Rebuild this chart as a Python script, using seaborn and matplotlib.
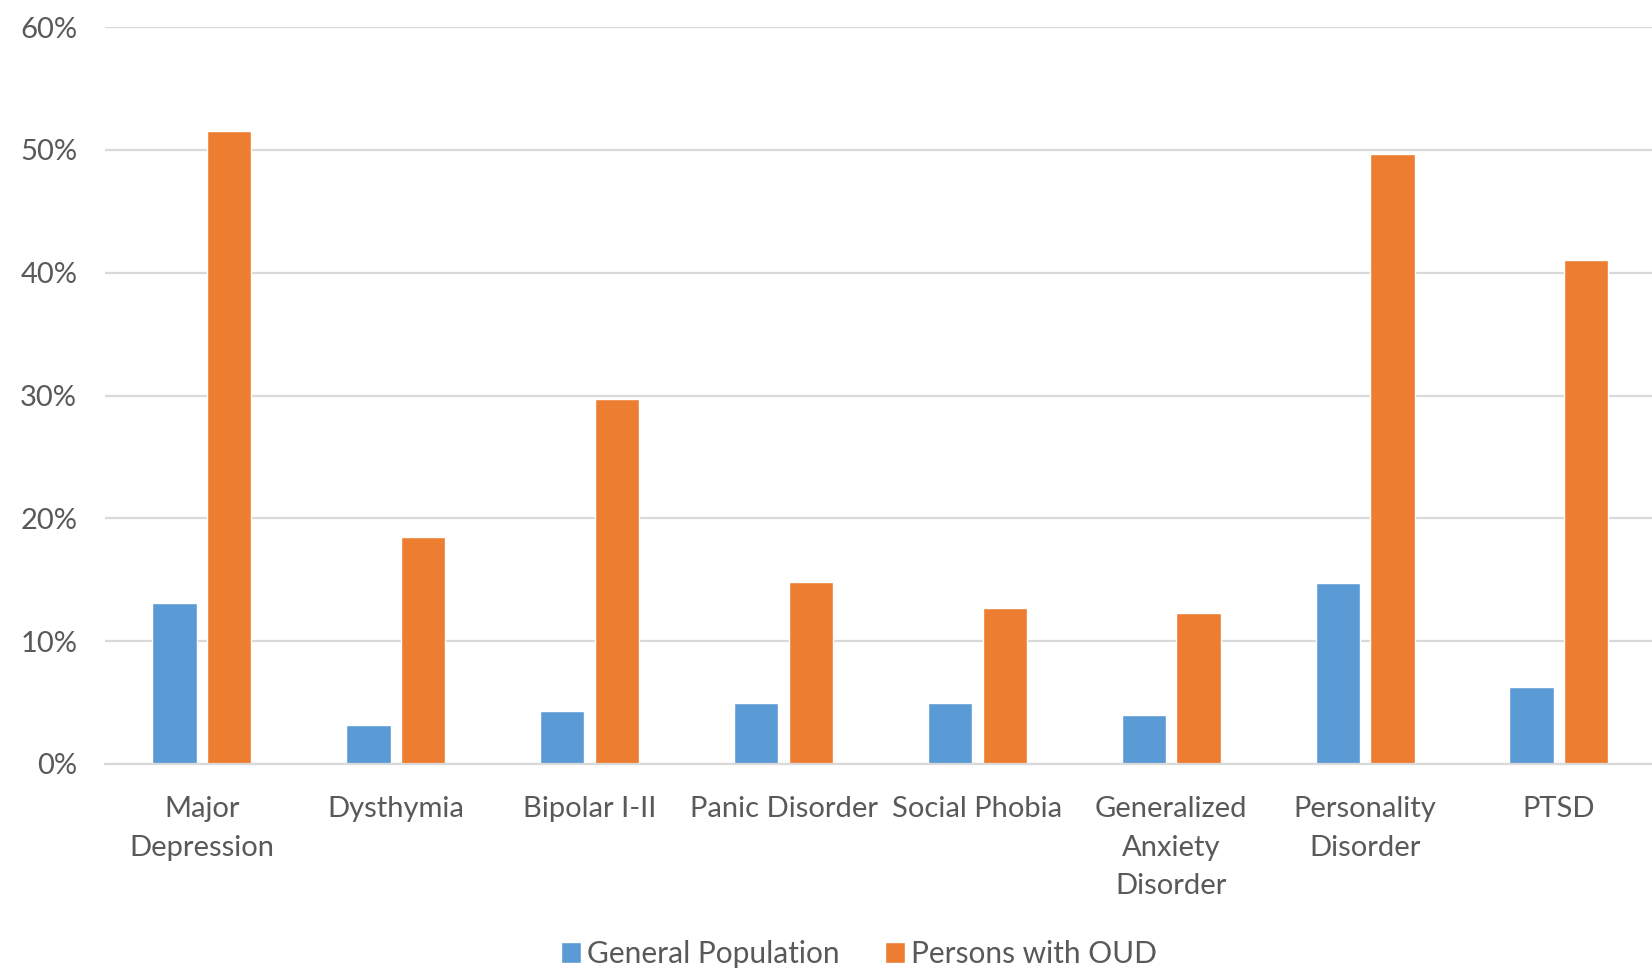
import matplotlib
matplotlib.use("Agg")
import matplotlib.pyplot as plt
from matplotlib.ticker import PercentFormatter
import seaborn as sns
import pandas as pd

categories = ["Major\nDepression", "Dysthymia", "Bipolar I-II", "Panic Disorder",
              "Social Phobia", "Generalized\nAnxiety\nDisorder", "Personality\nDisorder", "PTSD"]
general_population = [13.1, 3.2, 4.3, 5.0, 5.0, 4.0, 14.7, 6.3]
persons_with_oud = [51.5, 18.5, 29.7, 14.8, 12.7, 12.3, 49.7, 41.0]
series_names = ["General Population", "Persons with OUD"]
yticks = [0, 10, 20, 30, 40, 50, 60]

df = pd.DataFrame({
    "category": categories * 2,
    "value": general_population + persons_with_oud,
    "series": [series_names[0]] * len(categories) + [series_names[1]] * len(categories),
})

sns.set_theme(style="white")
plt.rcParams["font.family"] = ["Lato", "DejaVu Sans"]
text_color = "#595959"
grid_color = "#D9D9D9"

fig = plt.figure(figsize=(16.52, 9.73), dpi=100)
ax = fig.add_axes([105 / 1652, 1 - 764 / 973, 1 - 105 / 1652, (764 - 27) / 973])

sns.barplot(data=df, x="category", y="value", hue="series",
            palette=["#5B9BD5", "#ED7D31"], width=0.564, gap=0.19,
            saturation=1, ax=ax, legend=True)

ax.set_ylim(0, 60)
ax.set_xlim(-0.5, 7.48)
ax.set_yticks(yticks)
ax.yaxis.set_major_formatter(PercentFormatter(decimals=0))
ax.yaxis.grid(True, color=grid_color, linewidth=1.6)
ax.set_axisbelow(True)
for s in ["top", "right", "left"]:
    ax.spines[s].set_visible(False)
ax.spines["bottom"].set_color(grid_color)
ax.spines["bottom"].set_linewidth(1.6)
ax.set_xlabel("")
ax.set_ylabel("")
ax.tick_params(axis="both", length=0, labelsize=21, colors=text_color)
ax.tick_params(axis="x", pad=23)
ax.tick_params(axis="y", pad=20)
for lbl in ax.get_xticklabels():
    lbl.set_linespacing(1.6)
    lbl.set_verticalalignment("top")

handles, labels = ax.get_legend_handles_labels()
ax.get_legend().remove()
leg = fig.legend(handles, labels, loc="center", bbox_to_anchor=(859 / 1652, 1 - 954 / 973),
                 ncol=2, frameon=False, fontsize=21.5, handlelength=0.68, handleheight=0.68,
                 handletextpad=0.2, columnspacing=1.5, labelcolor=text_color)

fig.savefig("out.png", dpi=100)
